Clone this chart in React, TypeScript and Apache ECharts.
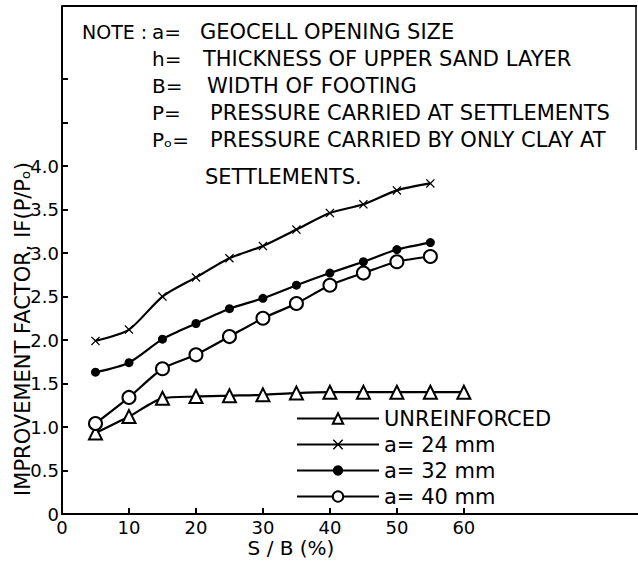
import React, { useEffect, useRef } from "react";
import * as echarts from "echarts";

const sbPercent = [5, 10, 15, 20, 25, 30, 35, 40, 45, 50, 55, 60];
const unreinforced = [0.93, 1.12, 1.33, 1.35, 1.36, 1.37, 1.39, 1.4, 1.4, 1.4, 1.4, 1.4];
const a24mm = [1.99, 2.12, 2.5, 2.72, 2.94, 3.08, 3.27, 3.46, 3.56, 3.72, 3.8];
const a32mm = [1.63, 1.74, 2.01, 2.19, 2.36, 2.48, 2.63, 2.77, 2.9, 3.04, 3.12];
const a40mm = [1.04, 1.34, 1.67, 1.83, 2.04, 2.25, 2.42, 2.63, 2.77, 2.9, 2.96];

const seriesNames = ["UNREINFORCED", "a= 24 mm", "a= 32 mm", "a= 40 mm"];
const xTickValues = [0, 10, 20, 30, 40, 50, 60];
const yLabelValues = [0, 0.5, 1, 1.5, 2, 2.5, 3, 3.5, 4];
const yTickValues = [0, 0.5, 1, 1.5, 2, 2.5, 3, 3.5, 4, 4.5, 5];

const noteSymbols = ["a=", "h=", "B=", "P=", "Pₒ="];
const noteTexts = [
  "GEOCELL OPENING SIZE",
  "THICKNESS OF UPPER SAND LAYER",
  "WIDTH OF FOOTING",
  "PRESSURE CARRIED AT SETTLEMENTS",
  "PRESSURE CARRIED BY ONLY CLAY AT",
];

const FONT = "DejaVu Sans";
const X_SHAPE =
  "path://M0,1 L1,0 L5,4 L9,0 L10,1 L6,5 L10,9 L9,10 L5,6 L1,10 L0,9 L4,5 Z";

function pairs(vals: number[]) {
  return vals.map((v, i) => [sbPercent[i], v]);
}

export default function App() {
  const ref = useRef<HTMLDivElement>(null);
  useEffect(() => {
    if (!ref.current) return;
    const chart = echarts.init(ref.current, null, { renderer: "svg" });
    const lineStyle = { color: "#000", width: 2.2 };
    const noteY = [32, 59, 86, 113, 140];
    const noteX = [200, 203, 207, 210, 210];
    const txt = (text: string, x: number, y: number, size: number, extra: any = {}) => ({
      type: "text",
      x,
      y,
      ...extra,
      style: { text, font: `${size}px "${FONT}"`, fill: "#000", textVerticalAlign: "middle", ...(extra.style || {}) },
    });
    const graphics: any[] = [
      { type: "line", shape: { x1: 62, y1: 6, x2: 637, y2: 6 }, style: { stroke: "#000", lineWidth: 2 } },
      { type: "line", shape: { x1: 636, y1: 6, x2: 636, y2: 150 }, style: { stroke: "#000", lineWidth: 1.5 } },
      txt("NOTE :", 82, 32, 19),
      ...noteSymbols.map((t, i) => txt(t, 152, noteY[i], 20)),
      ...noteTexts.map((t, i) => txt(t, noteX[i], noteY[i], 21)),
      txt("SETTLEMENTS.", 205, 177, 21),
      txt("IMPROVEMENT FACTOR, IF(P/Pₒ)", 23, 329, 21, {
        rotation: Math.PI / 2,
        style: { textAlign: "center" },
      }),
      txt("S / B (%)", 291, 548, 20, { style: { textAlign: "center" } }),
    ];

    chart.setOption({
      animation: false,
      backgroundColor: "#fff",
      grid: { left: 62, right: 0, top: 6, bottom: 49, containLabel: false },
      xAxis: {
        type: "value",
        min: 0,
        max: 86,
        interval: 10,
        splitLine: { show: false },
        axisLine: { lineStyle: { color: "#000", width: 2 } },
        axisTick: { inside: true, length: 6, customValues: xTickValues, lineStyle: { color: "#000", width: 2 } },
        axisLabel: {
          customValues: xTickValues,
          color: "#000",
          fontFamily: FONT,
          fontSize: 18,
          margin: 4,
        },
      },
      yAxis: {
        type: "value",
        min: 0,
        max: 5.84,
        interval: 0.5,
        splitLine: { show: false },
        axisLine: { show: true, lineStyle: { color: "#000", width: 2 } },
        axisTick: { show: true, inside: true, length: 6, customValues: yTickValues, lineStyle: { color: "#000", width: 2 } },
        axisLabel: {
          customValues: yLabelValues,
          color: "#000",
          fontFamily: FONT,
          fontSize: 18,
          margin: 3,
          formatter: (v: number) => (v === 0 ? "0" : v.toFixed(1)),
        },
      },
      legend: {
        orient: "vertical",
        left: 296,
        top: 408,
        padding: 0,
        itemWidth: 82,
        itemHeight: 13,
        itemGap: 5,
        data: seriesNames,
        textStyle: { color: "#000", fontFamily: FONT, fontSize: 21, lineHeight: 19 },
      },
      graphic: graphics,
      series: [
        {
          name: seriesNames[0],
          type: "line",
          data: pairs(unreinforced),
          symbol: "emptyTriangle",
          symbolSize: 13,
          smooth: 0.25,
          itemStyle: { color: "#000", borderWidth: 2 },
          lineStyle,
        },
        {
          name: seriesNames[1],
          type: "line",
          data: pairs(a24mm),
          symbol: X_SHAPE,
          symbolSize: 9,
          smooth: 0.25,
          itemStyle: { color: "#000" },
          lineStyle,
        },
        {
          name: seriesNames[2],
          type: "line",
          data: pairs(a32mm),
          symbol: "circle",
          symbolSize: 9,
          smooth: 0.25,
          itemStyle: { color: "#000" },
          lineStyle,
        },
        {
          name: seriesNames[3],
          type: "line",
          data: pairs(a40mm),
          symbol: "emptyCircle",
          symbolSize: 13,
          smooth: 0.25,
          itemStyle: { color: "#000", borderWidth: 2 },
          lineStyle,
        },
      ],
    });
    return () => chart.dispose();
  }, []);
  return <div ref={ref} style={{ width: 638, height: 563, position: "absolute", left: 0, top: 0 }} />;
}
